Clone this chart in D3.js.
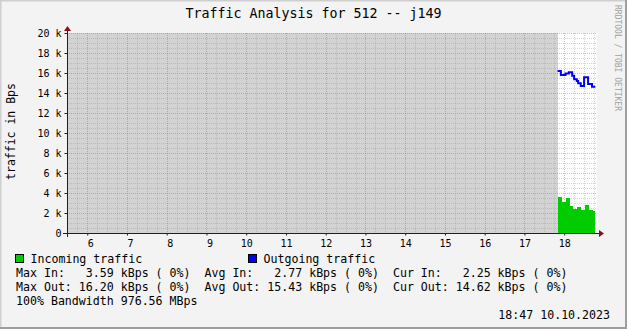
<!DOCTYPE html>
<html><head><meta charset="utf-8">
<script src="https://cdn.jsdelivr.net/npm/d3@7"></script>
<style>
html,body{margin:0;padding:0;background:#f3f3f3;}
svg text{font-family:"DejaVu Sans Mono",monospace;white-space:pre;}
</style></head>
<body>
<svg id="c" width="627" height="329"></svg>
<script>
// ---- data ----
const title = "Traffic Analysis for 512 -- j149";
const yLabel = "traffic in Bps";
const sideLabel = "RRDTOOL / TOBI OETIKER";
const windowStart = "2023-10-10 05:29:30";
const windowEnd = "2023-10-10 18:49:30";
const unknownEnd = "17:50";
// step boundaries (last entry is end of last step)
const inTimes = ["17:50","17:56","18:02","18:08","18:13","18:19","18:25","18:31","18:37","18:43","18:47"];
const inValues = [3590, 3100, 3500, 2700, 2400, 2600, 2300, 2800, 2300, 2250];
const outTimes = ["17:50","17:55","18:02","18:07","18:12","18:15","18:19","18:21","18:25","18:30","18:36","18:42","18:47"];
const outValues = [16200, 15800, 15950, 16070, 15730, 15370, 15200, 14970, 14700, 15570, 14900, 14620];
const yTicks = [0,2000,4000,6000,8000,10000,12000,14000,16000,18000,20000];
const yTickLabels = ["0","2 k","4 k","6 k","8 k","10 k","12 k","14 k","16 k","18 k","20 k"];
const legendNames = ["Incoming traffic","Outgoing traffic"];
const seriesColors = ["#00cc00","#0000ff"];
const statLines = [
  "Max In:   3.59 kBps ( 0%)  Avg In:   2.77 kBps ( 0%)  Cur In:   2.25 kBps ( 0%)",
  "Max Out: 16.20 kBps ( 0%)  Avg Out: 15.43 kBps ( 0%)  Cur Out: 14.62 kBps ( 0%)",
  "100% Bandwidth 976.56 MBps"
];
const stamp = "18:47 10.10.2023";

// ---- drawing ----
const parseFull = d3.timeParse("%Y-%m-%d %H:%M:%S");
const parseHM = s => d3.timeParse("%Y-%m-%d %H:%M")("2023-10-10 " + s);
const svg = d3.select("#c");
const W = 627, H = 329;
const L = 67, R = 597, T = 33, B = 233;

// background & border
svg.append("rect").attr("x",0).attr("y",0).attr("width",W).attr("height",H).attr("fill","#f3f3f3");
svg.append("path").attr("d",`M0.5,${H}V0.5H${W}`).attr("fill","none").attr("stroke","#cfcfcf").attr("stroke-width",2);
svg.append("path").attr("d",`M${W-1},0V${H-1}H0`).attr("fill","none").attr("stroke","#9e9e9e").attr("stroke-width",2);

const x = d3.scaleTime().domain([parseFull(windowStart), parseFull(windowEnd)]).range([L, R]);
const y = d3.scaleLinear().domain([0, 20000]).range([B, T]);

// canvas
svg.append("rect").attr("x",L).attr("y",T).attr("width",R-L).attr("height",B-T).attr("fill","#ffffff");
// unknown region
svg.append("rect").attr("x",L).attr("y",T).attr("width",Math.round(x(parseHM(unknownEnd)))-L).attr("height",B-T).attr("fill","#d3d3d3");

// grid
const g = svg.append("g").attr("shape-rendering","crispEdges");
const minorX = d3.timeMinute.every(15).range(x.domain()[0], x.domain()[1]).filter(d=>d.getMinutes()!==0);
const majorX = d3.timeHour.every(1).range(x.domain()[0], x.domain()[1]);
const minorY = d3.range(500, 20001, 500).filter(v=>v%2000!==0);
g.selectAll(".mx").data(minorX).join("line")
  .attr("x1",d=>Math.round(x(d))+0.5).attr("x2",d=>Math.round(x(d))+0.5).attr("y1",T).attr("y2",B)
  .attr("stroke","rgba(150,150,150,0.4)").attr("stroke-dasharray","1,1");
g.selectAll(".my").data(minorY).join("line")
  .attr("x1",L).attr("x2",R).attr("y1",d=>Math.round(y(d))+0.5).attr("y2",d=>Math.round(y(d))+0.5)
  .attr("stroke","rgba(150,150,150,0.4)").attr("stroke-dasharray","1,1");
g.selectAll(".Mx").data(majorX).join("line")
  .attr("x1",d=>Math.round(x(d))+0.5).attr("x2",d=>Math.round(x(d))+0.5).attr("y1",T).attr("y2",B)
  .attr("stroke","rgba(222,80,80,0.45)").attr("stroke-dasharray","1,1");
g.selectAll(".My").data(yTicks.filter(v=>v>0)).join("line")
  .attr("x1",L).attr("x2",R).attr("y1",d=>Math.round(y(d))+0.5).attr("y2",d=>Math.round(y(d))+0.5)
  .attr("stroke","rgba(222,80,80,0.45)").attr("stroke-dasharray","1,1");

// data
function steps(times, vals){
  const pts = vals.map((v,i)=>({t:parseHM(times[i]), v}));
  pts.push({t:parseHM(times[times.length-1]), v:vals[vals.length-1]});
  return pts;
}
const inPts = steps(inTimes, inValues);
const outPts = steps(outTimes, outValues);
svg.append("path").datum(inPts)
  .attr("d", d3.area().x(d=>x(d.t)).y0(y(0)).y1(d=>y(d.v)).curve(d3.curveStepAfter))
  .attr("fill", seriesColors[0]).attr("shape-rendering","crispEdges");
svg.append("path").datum(outPts)
  .attr("d", d3.line().x(d=>x(d.t)).y(d=>y(d.v)).curve(d3.curveStepAfter))
  .attr("fill","none").attr("stroke", seriesColors[1]).attr("stroke-width",2);

// axes
const yAxis = d3.axisLeft(y).tickValues(yTicks).tickFormat((d,i)=>yTickLabels[i]).tickSize(3).tickSizeOuter(0).tickPadding(3);
const ya = svg.append("g").attr("transform",`translate(${L+0.5},0)`).call(yAxis);
ya.select(".domain").remove();
ya.selectAll("line").attr("stroke","#202020");
ya.selectAll("text").attr("font-size",10).attr("fill","#000").attr("font-family","DejaVu Sans Mono");

const xAxis = d3.axisBottom(x).tickValues(majorX)
  .tickFormat(d=>String(d.getHours()).padStart(2," ")).tickSize(2).tickSizeOuter(0).tickPadding(4);
const xa = svg.append("g").attr("transform",`translate(0,${B+0.5})`).call(xAxis);
xa.select(".domain").remove();
xa.selectAll("line").attr("stroke","#202020");
xa.selectAll("text").attr("font-size",10).attr("fill","#000").attr("font-family","DejaVu Sans Mono");

// axis lines
svg.append("line").attr("x1",L+0.5).attr("x2",L+0.5).attr("y1",B+4).attr("y2",T-3).attr("stroke","#202020").attr("shape-rendering","crispEdges");
svg.append("line").attr("x1",L-4).attr("x2",R+3).attr("y1",B+0.5).attr("y2",B+0.5).attr("stroke","#202020").attr("shape-rendering","crispEdges");
svg.append("path").attr("d",`M${L-3},${T-2}L${L+0.5},${T-7}L${L+4},${T-2}Z`).attr("fill","#8b1010");
svg.append("path").attr("d",`M${R+2},${B-3}L${R+7},${B+0.5}L${R+2},${B+4}Z`).attr("fill","#8b1010");

// texts
svg.append("text").attr("x",313.5).attr("y",18).attr("text-anchor","middle").attr("font-size",13.3).text(title);
svg.append("text").attr("transform","translate(15,131.5) rotate(-90)").attr("text-anchor","middle").attr("font-size",11.5).text(yLabel);
svg.append("text").attr("transform","translate(614.5,5) rotate(90)").attr("font-size",8).attr("fill","#a0a0a0").text(sideLabel);

// legend
const legX = [15, 248];
legendNames.forEach((n,i)=>{
  svg.append("rect").attr("x",legX[i]+0.5).attr("y",254.5).attr("width",8).attr("height",8)
    .attr("fill",seriesColors[i]).attr("stroke","#000").attr("stroke-width",1);
  svg.append("text").attr("x",legX[i]+15.5).attr("y",263).attr("font-size",11.6).text(n);
});
statLines.forEach((s,i)=>{
  svg.append("text").attr("x",16).attr("y",277+14*i).attr("font-size",11.6).text(s);
});
svg.append("text").attr("x",610).attr("y",319).attr("text-anchor","end").attr("font-size",11.6).text(stamp);
</script>
</body></html>
